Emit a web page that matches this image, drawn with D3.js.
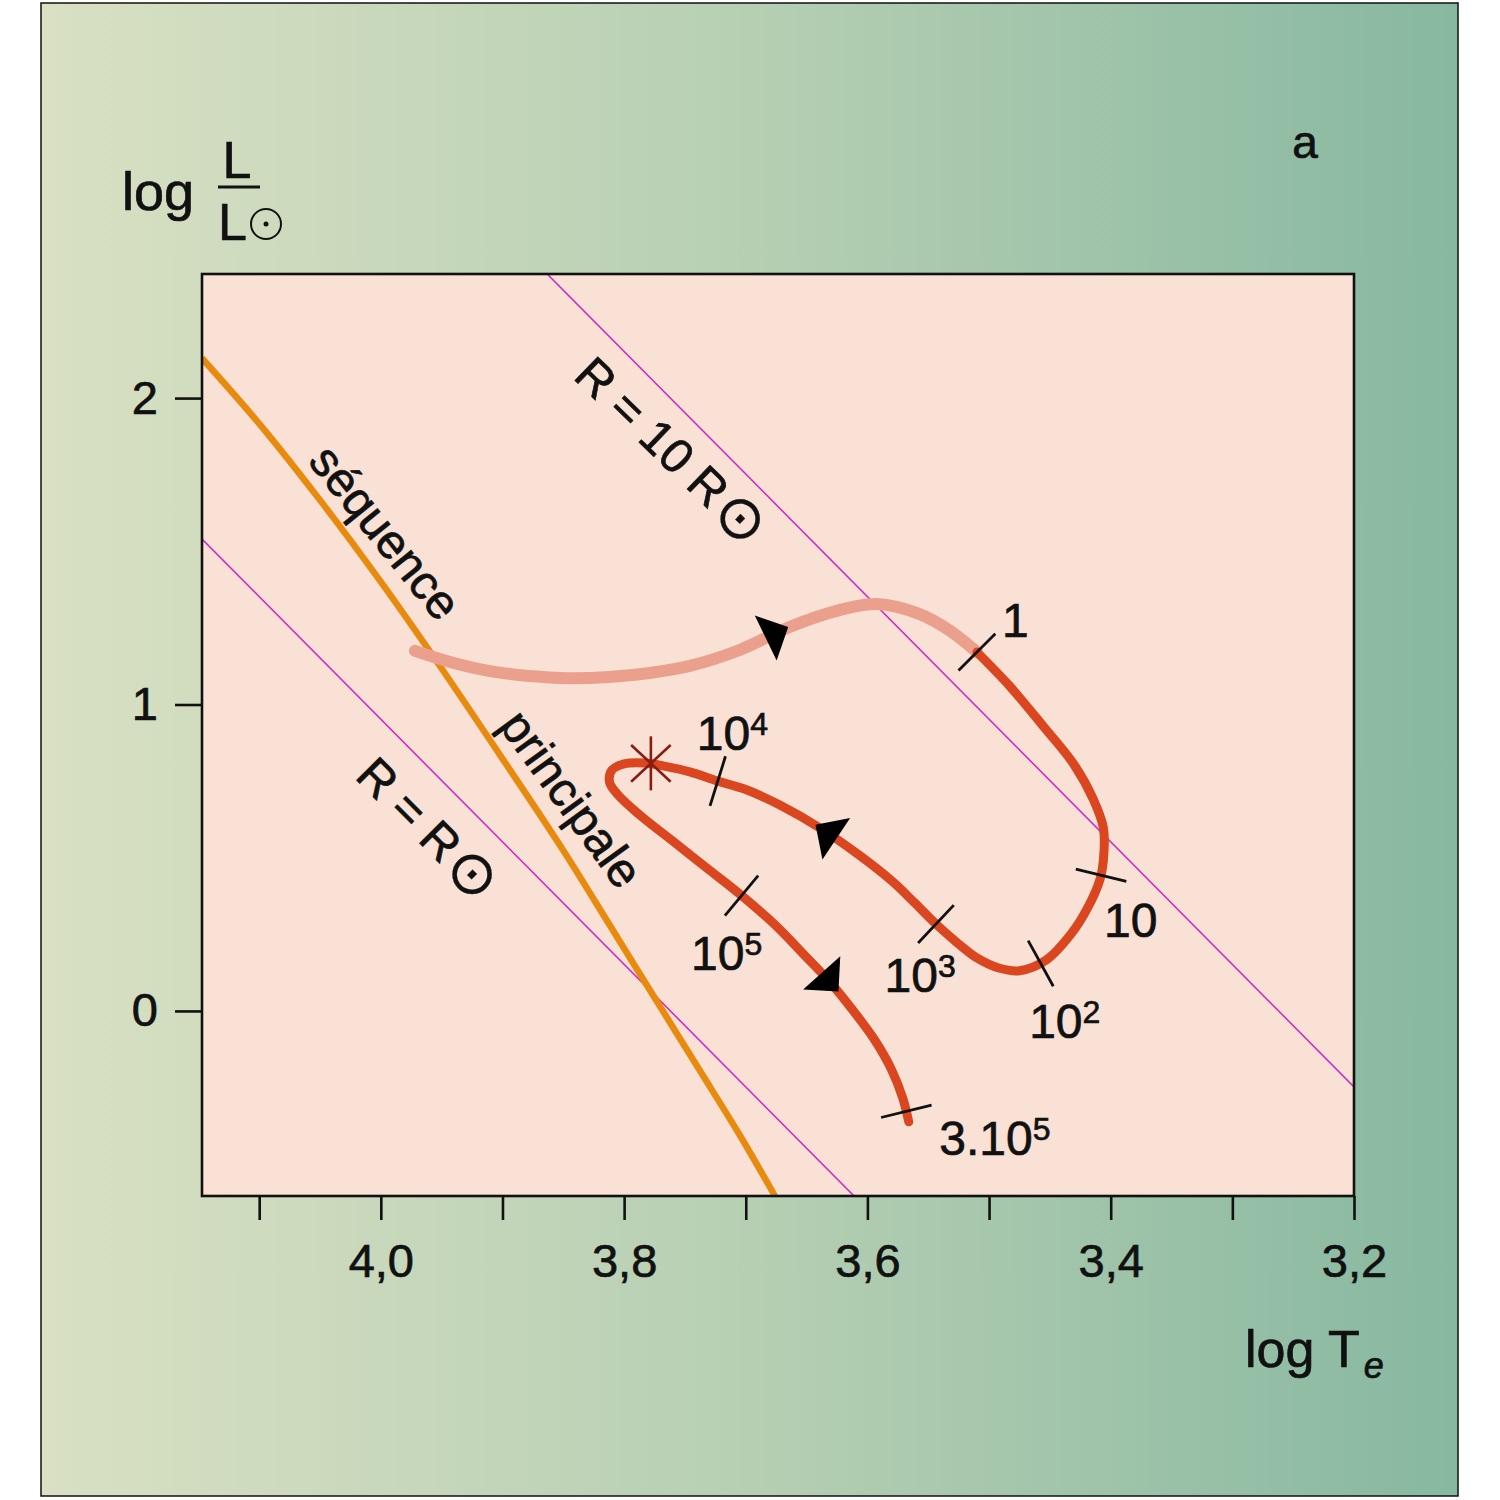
<!DOCTYPE html>
<html><head><meta charset="utf-8">
<script src="https://cdn.jsdelivr.net/npm/d3@7"></script>
<style>body{margin:0;background:#fff} text{stroke:#111;stroke-width:0.7px;paint-order:stroke}</style>
</head><body>
<svg id="c" width="1500" height="1500" xmlns="http://www.w3.org/2000/svg"></svg>
<script>
// ---------------- DATA ----------------
const xTickValues = [4.1, 4.0, 3.9, 3.8, 3.7, 3.6, 3.5, 3.4, 3.3, 3.2];
const xLabelValues = [4.0, 3.8, 3.6, 3.4, 3.2];
const xLabelTexts = ["4,0", "3,8", "3,6", "3,4", "3,2"];
const yTickValues = [0, 1, 2];
const yLabelTexts = ["0", "1", "2"];

// main sequence  [log Te, log L/Lsun]
const mainSequence = [
  [4.147, 2.130], [4.099, 1.912], [4.050, 1.667], [4.001, 1.406], [3.952, 1.129],
  [3.902, 0.835], [3.853, 0.542], [3.812, 0.281], [3.779, 0.069], [3.738, -0.193],
  [3.705, -0.405], [3.676, -0.604]
];
// early (convective) part of the track
const earlyTrack = [
  [3.972, 1.175], [3.943, 1.139], [3.910, 1.109], [3.878, 1.093], [3.845, 1.086],
  [3.812, 1.090], [3.779, 1.103], [3.746, 1.126], [3.705, 1.178], [3.664, 1.253],
  [3.623, 1.308], [3.592, 1.328], [3.557, 1.295], [3.533, 1.243], [3.510, 1.171]
];
// later part of the track
const lateTrack = [
  [3.510, 1.171], [3.483, 1.060], [3.455, 0.927], [3.430, 0.803], [3.414, 0.688],
  [3.406, 0.597], [3.406, 0.493], [3.409, 0.427], [3.419, 0.336], [3.432, 0.254],
  [3.453, 0.166], [3.475, 0.131], [3.492, 0.140], [3.510, 0.173], [3.526, 0.222],
  [3.543, 0.281], [3.561, 0.352], [3.579, 0.421], [3.607, 0.509], [3.639, 0.597],
  [3.672, 0.672], [3.701, 0.724], [3.723, 0.750], [3.746, 0.780], [3.767, 0.799],
  [3.783, 0.809], [3.800, 0.806], [3.810, 0.786], [3.812, 0.747], [3.805, 0.705],
  [3.787, 0.639], [3.759, 0.551], [3.730, 0.460], [3.703, 0.375], [3.676, 0.281],
  [3.652, 0.183], [3.631, 0.095], [3.611, -0.003], [3.594, -0.095], [3.580, -0.193],
  [3.571, -0.284], [3.566, -0.362]
];
// lines of constant radius (in solar radii)
const radii = [1, 10];
const radiusLabels = ["R = R", "R = 10 R"];
const logTsun = 3.762;
// ages along the track (years)
const ageBase = ["1", "10", "10", "10", "10", "10", "3.10"];
const ageSup  = ["", "", "2", "3", "4", "5", "5"];
const ageT = [3.510, 3.412, 3.458, 3.544, 3.723, 3.703, 3.564];
const ageL = [1.171, 0.447, 0.160, 0.281, 0.750, 0.378, -0.323];
// direction arrows (position on tracks)
const arrowTrack = ["early", "late", "late"];
const arrowT = [3.677, 3.634, 3.630];
const arrowL = [1.223, 0.558, 0.117];
// star (onset of hydrogen burning)
const starPoint = [3.778, 0.808];

// ---------------- LAYOUT ----------------
const svg = d3.select("#c");
const P = {l: 202, r: 1354, t: 274, b: 1196};
const x = d3.scaleLinear().domain([4.147, 3.2]).range([P.l, P.r]);
const y = d3.scaleLinear().domain([-0.604, 2.405]).range([P.b, P.t]);
const FONT = "'Liberation Sans', Arial, sans-serif";

const defs = svg.append("defs");
const grad = defs.append("linearGradient").attr("id", "bg").attr("x1", "0").attr("x2", "1").attr("y1", "0").attr("y2", "0");
grad.append("stop").attr("offset", "0").attr("stop-color", "#d9e0c3");
grad.append("stop").attr("offset", "0.5").attr("stop-color", "#b6cfb3");
grad.append("stop").attr("offset", "1").attr("stop-color", "#87b8a0");
defs.append("clipPath").attr("id", "plotclip").append("rect")
  .attr("x", P.l).attr("y", P.t).attr("width", P.r - P.l).attr("height", P.b - P.t);

svg.append("rect").attr("x", 41).attr("y", 3).attr("width", 1417).attr("height", 1493)
  .attr("fill", "url(#bg)").attr("stroke", "#111").attr("stroke-width", 1.5);

svg.append("rect").attr("x", P.l).attr("y", P.t).attr("width", P.r - P.l).attr("height", P.b - P.t)
  .attr("fill", "#f9e2d5");

const plot = svg.append("g").attr("clip-path", "url(#plotclip)");

// constant radius lines: log L = 2 log R + 4 (log T - log Tsun)
const rLine = R => [x.domain()[0], x.domain()[1]].map(t => [t, 2 * Math.log10(R) + 4 * (t - logTsun)]);
const line = d3.line().x(d => x(d[0])).y(d => y(d[1]));
plot.selectAll(".rad").data(radii).enter().append("path")
  .attr("d", R => line(rLine(R))).attr("fill", "none").attr("stroke", "#cc2fc4").attr("stroke-width", 1.6);

const curve = d3.line().x(d => x(d[0])).y(d => y(d[1])).curve(d3.curveCatmullRom.alpha(0.5));

plot.append("path").attr("d", curve(mainSequence)).attr("fill", "none")
  .attr("stroke", "#e88a0e").attr("stroke-width", 6.5);

const earlyPath = plot.append("path").attr("d", curve(earlyTrack)).attr("fill", "none")
  .attr("stroke", "#eba08e").attr("stroke-width", 12).attr("stroke-linecap", "round");
const latePath = plot.append("path").attr("d", curve(lateTrack)).attr("fill", "none")
  .attr("stroke", "#d9461f").attr("stroke-width", 9).attr("stroke-linecap", "round");

// helpers for locating points on paths
function nearest(pathSel, px, py) {
  const node = pathSel.node();
  const L = node.getTotalLength();
  let best = 0, bd = Infinity;
  for (let s = 0; s <= L; s += 0.5) {
    const p = node.getPointAtLength(s);
    const d = (p.x - px) ** 2 + (p.y - py) ** 2;
    if (d < bd) { bd = d; best = s; }
  }
  const p0 = node.getPointAtLength(Math.max(0, best - 3));
  const p1 = node.getPointAtLength(Math.min(L, best + 3));
  const p = node.getPointAtLength(best);
  const a = Math.atan2(p1.y - p0.y, p1.x - p0.x);
  return {x: p.x, y: p.y, a: a};
}

// age ticks
const ageLabelOffset = [[25, -15], [8, 63], [-11, 76], [-51, 67], [-21, -31], [-51, 75], [28, 45]];
const tickG = svg.append("g");
ageT.forEach((t, i) => {
  const q = nearest(latePath, x(t), y(ageL[i]));
  const n = q.a + Math.PI / 2, h = 26;
  tickG.append("line")
    .attr("x1", q.x - h * Math.cos(n)).attr("y1", q.y - h * Math.sin(n))
    .attr("x2", q.x + h * Math.cos(n)).attr("y2", q.y + h * Math.sin(n))
    .attr("stroke", "#111").attr("stroke-width", 2.8);
  const tx = tickG.append("text").attr("x", x(t) + ageLabelOffset[i][0]).attr("y", y(ageL[i]) + ageLabelOffset[i][1])
    .attr("font-family", FONT).attr("font-size", 48).attr("fill", "#111");
  tx.append("tspan").text(ageBase[i]);
  if (ageSup[i]) tx.append("tspan").attr("font-size", 32).attr("dy", -15).text(ageSup[i]);
});

// arrows
arrowT.forEach((t, i) => {
  const ps = arrowTrack[i] === "early" ? earlyPath : latePath;
  const q = nearest(ps, x(t), y(arrowL[i]));
  const deg = q.a * 180 / Math.PI;
  svg.append("path").attr("d", "M17,0 L-8,-25 L-8,25 Z")
    .attr("transform", `translate(${q.x},${q.y}) rotate(${deg})`).attr("fill", "#000");
});

// star
const sg = svg.append("g").attr("transform", `translate(${x(starPoint[0])},${y(starPoint[1])})`);
[90, 43, -43].forEach(a => {
  const r = a * Math.PI / 180, h = 27;
  sg.append("line").attr("x1", -h * Math.cos(r)).attr("y1", -h * Math.sin(r))
    .attr("x2", h * Math.cos(r)).attr("y2", h * Math.sin(r))
    .attr("stroke", "#8a1a14").attr("stroke-width", 2.6);
});

// rotated labels
const rotLabels = [
  {txt: "séquence", sun: false, t: 3.996, l: 1.563, rot: 51, fs: 48},
  {txt: "principale", sun: false, t: 3.843, l: 0.693, rot: 54, fs: 48},
  {txt: radiusLabels[0], sun: true, t: 3.961, l: 0.597, rot: 45, fs: 48},
  {txt: radiusLabels[1], sun: true, t: 3.761, l: 1.830, rot: 44, fs: 48}
];
rotLabels.forEach(d => {
  const t = svg.append("text").attr("transform", `translate(${x(d.t)},${y(d.l)}) rotate(${d.rot})`)
    .attr("text-anchor", "middle").attr("dominant-baseline", "central")
    .attr("font-family", FONT).attr("font-size", d.fs).attr("fill", "#111");
  t.append("tspan").text(d.txt);
  if (d.sun) t.append("tspan").attr("font-size", d.fs * 1.25).attr("dx", 3)
    .style("stroke-width", "0.3px").text("\u2299");
});

// plot border
svg.append("rect").attr("x", P.l).attr("y", P.t).attr("width", P.r - P.l).attr("height", P.b - P.t)
  .attr("fill", "none").attr("stroke", "#111").attr("stroke-width", 2.6);

// axes
const xAxis = d3.axisBottom(x).tickValues(xTickValues).tickSize(24).tickPadding(24)
  .tickFormat(v => { const k = xLabelValues.findIndex(w => Math.abs(w - v) < 1e-6); return k >= 0 ? xLabelTexts[k] : ""; });
const gx = svg.append("g").attr("transform", `translate(0,${P.b})`).call(xAxis);
const yAxis = d3.axisLeft(y).tickValues(yTickValues).tickSize(27).tickPadding(17)
  .tickFormat(v => yLabelTexts[yTickValues.indexOf(v)]);
const gy = svg.append("g").attr("transform", `translate(${P.l},0)`).call(yAxis);
[gx, gy].forEach(g => {
  g.select(".domain").remove();
  g.selectAll(".tick line").attr("stroke", "#111").attr("stroke-width", 2.6);
  g.selectAll(".tick text").attr("font-family", FONT).attr("font-size", 47).attr("fill", "#111");
});

// axis titles
svg.append("text").attr("x", 122).attr("y", 210).attr("font-family", FONT).attr("font-size", 54).attr("fill", "#111").text("log");
svg.append("text").attr("x", 237).attr("y", 178).attr("text-anchor", "middle").attr("font-family", FONT).attr("font-size", 52).attr("fill", "#111").text("L");
svg.append("line").attr("x1", 218).attr("x2", 260).attr("y1", 187).attr("y2", 187).attr("stroke", "#111").attr("stroke-width", 3);
svg.append("text").attr("x", 218).attr("y", 240).attr("font-family", FONT).attr("font-size", 52).attr("fill", "#111").text("L");
svg.append("circle").attr("cx", 266).attr("cy", 224).attr("r", 15).attr("fill", "none").attr("stroke", "#111").attr("stroke-width", 2);
svg.append("circle").attr("cx", 266).attr("cy", 224).attr("r", 2.5).attr("fill", "#111");

const xt = svg.append("text").attr("x", 1245).attr("y", 1367).attr("font-family", FONT).attr("font-size", 52).attr("fill", "#111");
xt.append("tspan").text("log T");
xt.append("tspan").attr("font-style", "italic").attr("font-size", 36).attr("dy", 11).attr("dx", 4).text("e");

svg.append("text").attr("x", 1305).attr("y", 158).attr("text-anchor", "middle").attr("font-family", FONT).attr("font-size", 46).attr("fill", "#111").text("a");
</script>
</body></html>
